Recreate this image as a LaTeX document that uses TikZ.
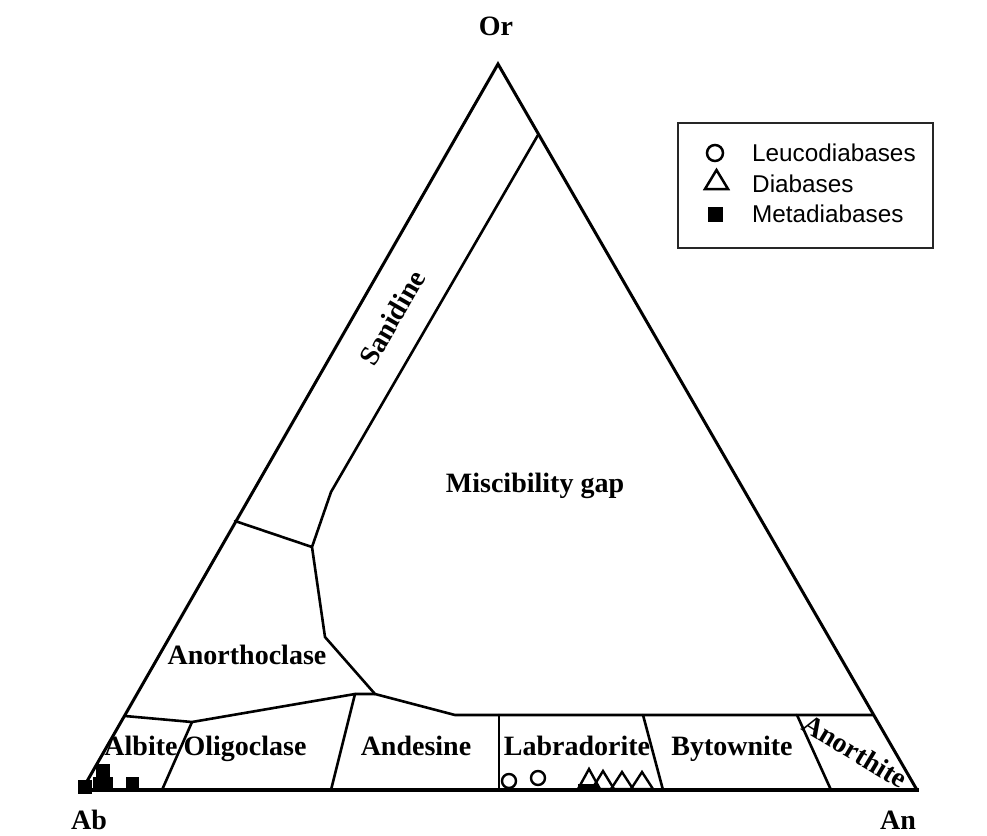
\documentclass[tikz,border=0pt]{standalone}
\usepackage{fontspec}
\setmainfont{Liberation Serif}
\newfontfamily\legfont{Liberation Sans}
\begin{document}
\begin{tikzpicture}[x=1pt,y=-1pt,
  edge/.style={line width=3pt, line join=miter, line cap=round},
  baseedge/.style={line width=4pt, line cap=butt},
  bound/.style={line width=2.6pt, line join=round, line cap=round},
  lab/.style={font=\fontsize{28}{30}\selectfont\bfseries, anchor=base, inner sep=0pt},
  leg/.style={font=\legfont\fontsize{24.3}{26}\selectfont, anchor=base west, inner sep=0pt},
  circmark/.style={circle, draw, line width=2.4pt, minimum size=14pt, inner sep=0pt},
  trimark/.style={line width=2.4pt, line join=miter},
  sqmark/.style={fill=black}]
\useasboundingbox (0,0) rectangle (987,835);
% corners
\coordinate (Ab) at (82,790);
\coordinate (An) at (917,790);
\coordinate (Or) at (498,64);
\draw[edge] (Ab) -- (Or) -- (An);
\draw[baseedge] (80,790) -- (919,790);
% boundaries
\coordinate (s1) at (538,135);
\coordinate (s2) at (331,492);
\coordinate (j1) at (312,547);
\coordinate (l1) at (235,521);
\coordinate (m1) at (325,637);
\coordinate (j2) at (375,694);
\coordinate (m2) at (455,715);
\coordinate (r1) at (873,715);
\coordinate (j3) at (355,694);
\coordinate (j4) at (192,722);
\coordinate (l2) at (125,716);
\draw[bound] (s1) -- (s2) -- (j1) -- (m1) -- (j2) -- (m2) -- (r1);
\draw[bound] (l1) -- (j1);
\draw[bound] (j2) -- (j3) -- (j4) -- (l2);
\coordinate (b1) at (162,790);
\coordinate (b2) at (331,790);
\coordinate (t3) at (499,715);
\coordinate (b3) at (499,790);
\coordinate (t4) at (643,715);
\coordinate (b4) at (663,790);
\coordinate (t5) at (797,715);
\coordinate (b5) at (831,790);
\draw[bound] (j4) -- (b1);
\draw[bound] (j3) -- (b2);
\draw[bound] (t3) -- (b3);
\draw[bound] (t4) -- (b4);
\draw[bound] (t5) -- (b5);
% labels
\node[lab] (lOr) at (496,35) {Or};
\node[lab] (lAb) at (89,829) {Ab};
\node[lab] (lAn) at (898,829) {An};
\node[lab, anchor=center, rotate=60] (lSan) at (392,318) {Sanidine};
\node[lab] (lMis) at (535,492) {Miscibility gap};
\node[lab] (lAno) at (247,664) {Anorthoclase};
\node[lab] (lAlb) at (141,755) {Albite};
\node[lab] (lOli) at (245,755) {Oligoclase};
\node[lab] (lAnd) at (416,755) {Andesine};
\node[lab] (lLab) at (577,755) {Labradorite};
\node[lab] (lByt) at (732,755) {Bytownite};
\node[lab, anchor=center, rotate=-31] (lAnt) at (855,751) {Anorthite};
% data: metadiabases
\fill[sqmark] (78,780) rectangle (92,794);
\fill[sqmark] (96,764) rectangle (110,778);
\fill[sqmark] (93,777) rectangle (113,790);
\fill[sqmark] (126,777) rectangle (139,790);
% leucodiabases
\node[circmark] (c1) at (509,781) {};
\node[circmark] (c2) at (538,778) {};
% diabases
\fill (578,784) rectangle (598,790);
\draw[trimark] (578,789) -- (589,769) -- (600,789) -- cycle;
\draw[trimark] (592,789) -- (603,771) -- (614,789) -- cycle;
\draw[trimark] (611,789) -- (622,772) -- (633,789) -- cycle;
\draw[trimark] (631,789) -- (642,772) -- (653,789) -- cycle;
% legend
\node[draw=black!85, line width=1.5pt, minimum width=255pt, minimum height=125pt, anchor=north west, inner sep=0pt] (legbox) at (677,122) {};
\node[circmark, minimum size=16pt, line width=2.5pt] (lgc) at (715,153) {};
\draw[trimark, line width=2.5pt] (705,189) -- (716.5,170) -- (728,189) -- cycle;
\fill[sqmark] (708,207) rectangle (723,222);
\node[leg] (lg1) at (752,161) {Leucodiabases};
\node[leg] (lg2) at (752,192) {Diabases};
\node[leg] (lg3) at (752,222) {Metadiabases};
\end{tikzpicture}
\end{document}
